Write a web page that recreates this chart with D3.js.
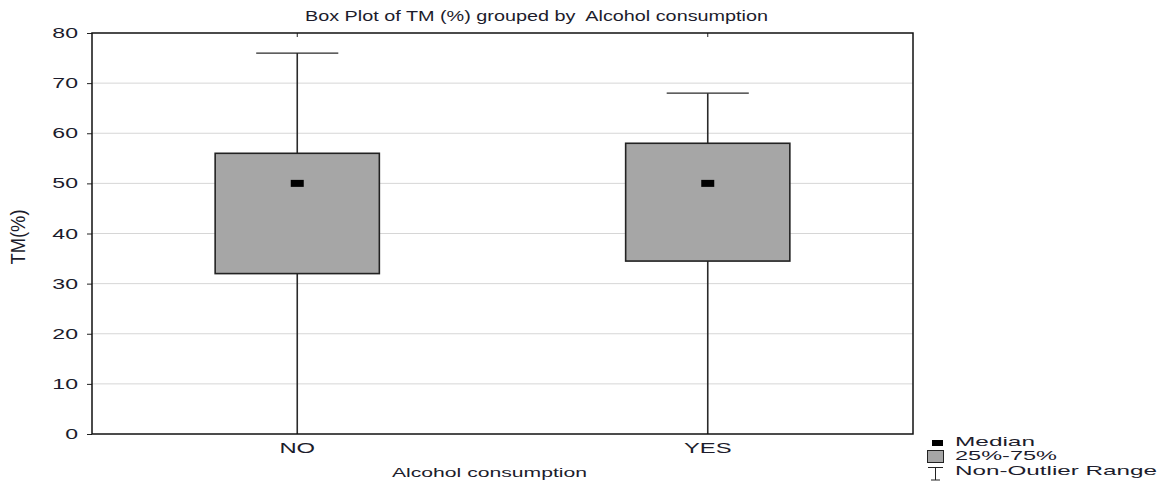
<!DOCTYPE html>
<html>
<head>
<meta charset="utf-8">
<script src="https://cdn.jsdelivr.net/npm/d3@7"></script>
<style>
  body { margin: 0; background: #fff; }
  text { font-family: "Liberation Sans", Arial, sans-serif; fill: #1c1c2c; }
</style>
</head>
<body>
<div id="chart"></div>
<script>
const categories = ["NO", "YES"];
const whiskerLow = [0, 0];
const q1 = [32, 34.5];
const medians = [50, 50];
const q3 = [56, 58];
const whiskerHigh = [76, 68];
const yTicks = [0, 10, 20, 30, 40, 50, 60, 70, 80];
const legendLabels = ["Median", "25%-75%", "Non-Outlier Range"];

const w = 1166, h = 484;
const margin = { left: 92, top: 33, right: 253, bottom: 50 };

const svg = d3.select("#chart").append("svg").attr("width", w).attr("height", h);

const x = d3.scaleBand().domain(categories).range([margin.left, w - margin.right]);
const y = d3.scaleLinear().domain([0, 80]).range([h - margin.bottom, margin.top]);

// the source picture is stretched sideways, so text gets a horizontal scale
function label(parent, px, py, str, size, sx, anchor) {
  return parent.append("text")
    .attr("transform", `translate(${px},${py}) scale(${sx},1)`)
    .attr("text-anchor", anchor || "start")
    .attr("font-size", size)
    .text(str);
}

// grid
svg.append("g").selectAll("line").data(yTicks.slice(1, -1)).enter().append("line")
   .attr("x1", margin.left).attr("x2", w - margin.right)
   .attr("y1", d => y(d)).attr("y2", d => y(d))
   .attr("stroke", "#d6d6d6").attr("stroke-width", 1);

// y axis ticks via d3 axis, labels drawn stretched
const yAxis = svg.append("g").attr("transform", `translate(${margin.left},0)`)
   .call(d3.axisLeft(y).tickValues(yTicks).tickSize(5).tickFormat(""));
yAxis.select(".domain").remove();
yAxis.selectAll("line").attr("stroke", "#222");
const yl = svg.append("g");
yTicks.forEach(t => label(yl, 78, y(t) + 5, t, 14, 1.65, "end"));

// category labels
const xl = svg.append("g");
categories.forEach(c => label(xl, x(c) + x.bandwidth() / 2, 453, c, 14, 1.7, "middle"));

// top ticks
svg.append("g").selectAll("line").data(categories).enter().append("line")
   .attr("x1", d => x(d) + x.bandwidth() / 2).attr("x2", d => x(d) + x.bandwidth() / 2)
   .attr("y1", margin.top).attr("y2", margin.top + 4)
   .attr("stroke", "#222");

const boxW = x.bandwidth() * 0.4;
const capW = x.bandwidth() * 0.2;
const cx = (d) => x(d) + x.bandwidth() / 2;

const g = svg.append("g").selectAll("g").data(categories).enter().append("g");
g.append("line")
   .attr("x1", cx).attr("x2", cx)
   .attr("y1", (d, i) => y(whiskerLow[i])).attr("y2", (d, i) => y(whiskerHigh[i]))
   .attr("stroke", "#2a2a2a").attr("stroke-width", 1.6);
g.append("line")
   .attr("x1", d => cx(d) - capW / 2).attr("x2", d => cx(d) + capW / 2)
   .attr("y1", (d, i) => y(whiskerHigh[i])).attr("y2", (d, i) => y(whiskerHigh[i]))
   .attr("stroke", "#2a2a2a").attr("stroke-width", 1.2);
g.append("rect")
   .attr("x", d => cx(d) - boxW / 2).attr("width", boxW)
   .attr("y", (d, i) => y(q3[i])).attr("height", (d, i) => y(q1[i]) - y(q3[i]))
   .attr("fill", "#a6a6a6").attr("stroke", "#222").attr("stroke-width", 1.6);
g.append("rect")
   .attr("x", d => cx(d) - 6.5).attr("width", 13)
   .attr("y", (d, i) => y(medians[i]) - 3.5).attr("height", 7)
   .attr("fill", "#000");

// frame
svg.append("rect")
   .attr("x", margin.left).attr("y", margin.top)
   .attr("width", w - margin.left - margin.right).attr("height", h - margin.top - margin.bottom)
   .attr("fill", "none").attr("stroke", "#111").attr("stroke-width", 1.5);

svg.append("text").attr("x", 536.5).attr("y", 21).attr("text-anchor", "middle")
   .attr("font-size", 14).attr("textLength", 463).attr("lengthAdjust", "spacingAndGlyphs")
   .style("white-space", "pre")
   .text("Box Plot of TM (%) grouped by  Alcohol consumption");
svg.append("text").attr("x", 489.5).attr("y", 477).attr("text-anchor", "middle")
   .attr("font-size", 13).attr("textLength", 195).attr("lengthAdjust", "spacingAndGlyphs")
   .text("Alcohol consumption");
svg.append("text").attr("transform", "translate(25,237) rotate(-90) scale(1,1.5)")
   .attr("text-anchor", "middle").attr("font-size", 13)
   .attr("textLength", 55).attr("lengthAdjust", "spacingAndGlyphs")
   .text("TM(%)");

// legend
const lg = svg.append("g");
lg.append("rect").attr("x", 932).attr("y", 440).attr("width", 11).attr("height", 6).attr("fill", "#000");
lg.append("rect").attr("x", 927.5).attr("y", 450.5).attr("width", 16).attr("height", 12)
   .attr("fill", "#a6a6a6").attr("stroke", "#222");
lg.append("path").attr("d", "M928,467.5H943M935.5,467.5V480M931,480H940")
   .attr("stroke", "#222").attr("fill", "none");
const legendY = [446, 460, 475];
const legendW = [80, 102, 202];
legendLabels.forEach((s, i) => {
  lg.append("text").attr("x", 955).attr("y", legendY[i]).attr("font-size", 13.5)
    .attr("textLength", legendW[i]).attr("lengthAdjust", "spacingAndGlyphs").text(s);
});
</script>
</body>
</html>
